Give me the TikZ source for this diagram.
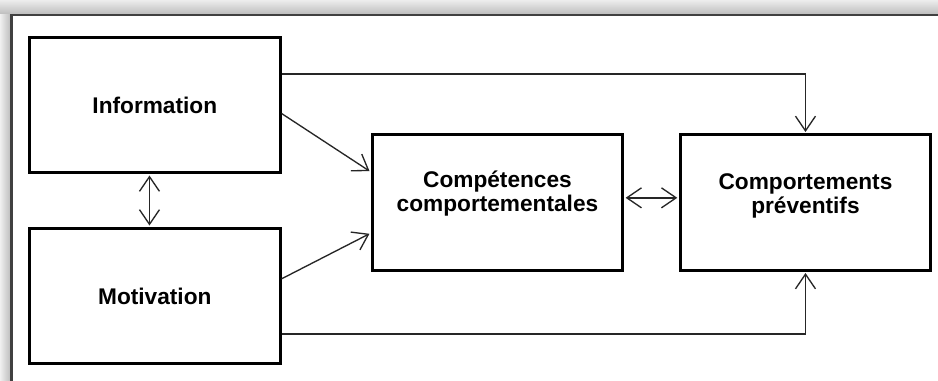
\documentclass[tikz,border=0pt]{standalone}
\usepackage{fontspec}
\setmainfont{Liberation Sans}
\usetikzlibrary{positioning,arrows.meta,calc}

\tikzset{
  barb/.tip={Straight Barb[length=11pt,width=15pt]},
  box/.style={draw=black, line width=2.25pt, fill=white,
    minimum width=188pt, minimum height=101.5pt, inner sep=0pt,
    align=center, font=\fontsize{17}{18}\selectfont\bfseries},
  conn/.style={color=black!85, line width=1pt, -barb, shorten >=1pt},
  dbl/.style={conn, barb-barb, shorten <=1pt},
}

\begin{document}
\begin{tikzpicture}[x=0.75pt,y=-0.75pt]
  \useasboundingbox (0,0) rectangle (938,381);
  \fill[white] (0,0) rectangle (938,381);
  \shade[top color=black!7, bottom color=black!27] (0,0) rectangle (938,15);
  \shade[left color=black!6, right color=black!27] (0,15) rectangle (11,381);
  \draw[line width=1.8pt, black!75] (938,15.3) -| (11.3,381);

  \node[box] (info) at (154.8,105) {Information};
  \node[box, below=39.5pt of info] (motiv) {Motivation};
  \node[box, text depth=17.5pt, yshift=-1.5pt,
    right=66.75pt of $(info.east)!.5!(motiv.east)$] (comp)
    {Compétences\\comportementales};
  \node[box, text depth=13.5pt, right=40.75pt of comp] (prev)
    {Comportements\\préventifs};

  \path[conn]
    ([yshift=-6.4pt]info.east) edge ([yshift=23pt]comp.west)
    ([yshift=12.9pt]motiv.east) edge ([yshift=-23pt]comp.west);
  \draw[conn] ([yshift=23.25pt]info.east) -| (prev.north);
  \draw[conn] ([yshift=-28.5pt]motiv.east) -| (prev.south);
  \path[dbl]
    ([xshift=-4pt]info.south) edge ([xshift=-4pt]motiv.north)
    ([yshift=3.5pt]comp.east) edge ([yshift=3.5pt]prev.west);
\end{tikzpicture}
\end{document}
